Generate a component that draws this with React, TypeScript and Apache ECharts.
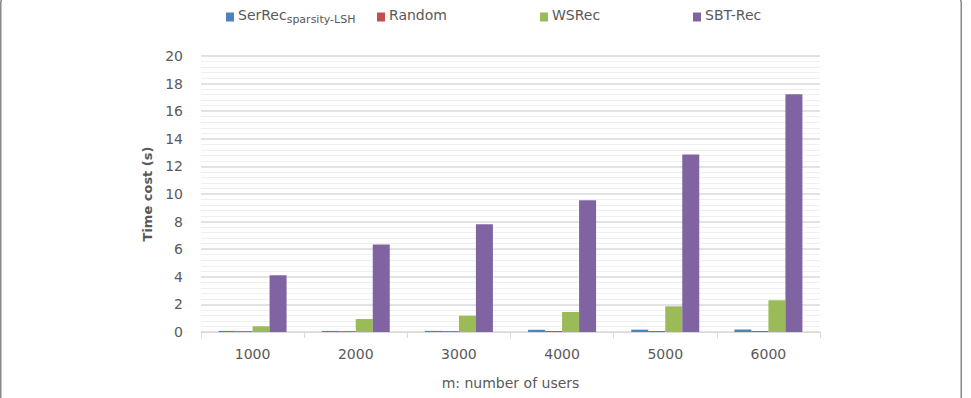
import React, { useEffect, useRef } from "react";
import * as echarts from "echarts";

const categories = ["1000", "2000", "3000", "4000", "5000", "6000"];
const seriesNames = ["SerRec_sparsity-LSH", "Random", "WSRec", "SBT-Rec"];
const serRecValues = [0.08, 0.08, 0.08, 0.16, 0.17, 0.18];
const randomValues = [0.06, 0.06, 0.06, 0.07, 0.07, 0.07];
const wsRecValues = [0.41, 0.94, 1.18, 1.45, 1.86, 2.3];
const sbtRecValues = [4.11, 6.34, 7.81, 9.55, 12.87, 17.22];
const colors = ["#4F81BD", "#C0504D", "#9BBB59", "#8064A2"];
const legendLefts = [226, 377, 540, 693];

const FONT = "DejaVu Sans";
const TEXT = "#595959";

export default function App() {
  const ref = useRef<HTMLDivElement>(null);
  useEffect(() => {
    if (!ref.current) return;
    const chart = echarts.init(ref.current, undefined, { renderer: "svg" });
    const values = [serRecValues, randomValues, wsRecValues, sbtRecValues];
    chart.setOption({
      animation: false,
      backgroundColor: "#ffffff",
      textStyle: { fontFamily: FONT, color: TEXT },
      legend: seriesNames.map((n, i) => ({
        data: [n],
        left: legendLefts[i],
        top: 8,
        padding: 0,
        itemWidth: 8,
        itemHeight: 9,
        icon: "rect",
        itemGap: 0,
        selectedMode: false,
        formatter: (name: string) =>
          name === "SerRec_sparsity-LSH" ? "{a|SerRec}{b|sparsity-LSH}" : "{a|" + name + "}",
        textStyle: {
          color: TEXT,
          fontFamily: FONT,
          padding: [0, 0, 0, -1],
          rich: {
            a: { fontSize: 14, fontFamily: FONT, color: TEXT, lineHeight: 18, verticalAlign: "top" },
            b: { fontSize: 11, fontFamily: FONT, color: TEXT, lineHeight: 18, verticalAlign: "top", padding: [6, 0, 0, 0] },
          },
        },
      })),
      grid: { left: 201, right: 151, top: 56, bottom: 66 },
      xAxis: {
        type: "category",
        data: categories,
        name: "m: number of users",
        nameLocation: "middle",
        nameGap: 44,
        nameTextStyle: { fontSize: 14, color: TEXT, fontFamily: FONT },
        axisLine: { lineStyle: { color: "#d9d9d9", width: 1 } },
        axisTick: { show: true, length: 6, lineStyle: { color: "#d9d9d9" } },
        axisLabel: { fontSize: 14, color: TEXT, fontFamily: FONT, margin: 15 },
      },
      yAxis: {
        type: "value",
        min: 0,
        max: 20,
        interval: 2,
        name: "Time cost (s)",
        nameLocation: "middle",
        nameGap: 46,
        nameTextStyle: { fontSize: 13, fontWeight: "bold", color: TEXT, fontFamily: FONT },
        axisLine: { show: false },
        axisTick: { show: false },
        axisLabel: { fontSize: 14, color: TEXT, fontFamily: FONT, margin: 18 },
        splitLine: { lineStyle: { color: "#d9d9d9", width: 1.5 } },
        minorTick: { show: false, splitNumber: 5 },
        minorSplitLine: { show: true, lineStyle: { color: "#efefef", width: 1 } },
      },
      series: seriesNames.map((n, i) => ({
        name: n,
        type: "bar",
        data: values[i],
        barWidth: 17,
        barGap: "0%",
        itemStyle: { color: colors[i] },
      })),
      graphic: [
        {
          type: "rect",
          shape: { x: 0.75, y: -4, width: 960.5, height: 410, r: 7 },
          style: { fill: "none", stroke: "#888", lineWidth: 1.5 },
          silent: true,
        },
      ],
    });
    return () => chart.dispose();
  }, []);
  return (
    <div
      ref={ref}
      style={{ position: "fixed", left: 0, top: 0, width: 971, height: 398 }}
    />
  );
}
